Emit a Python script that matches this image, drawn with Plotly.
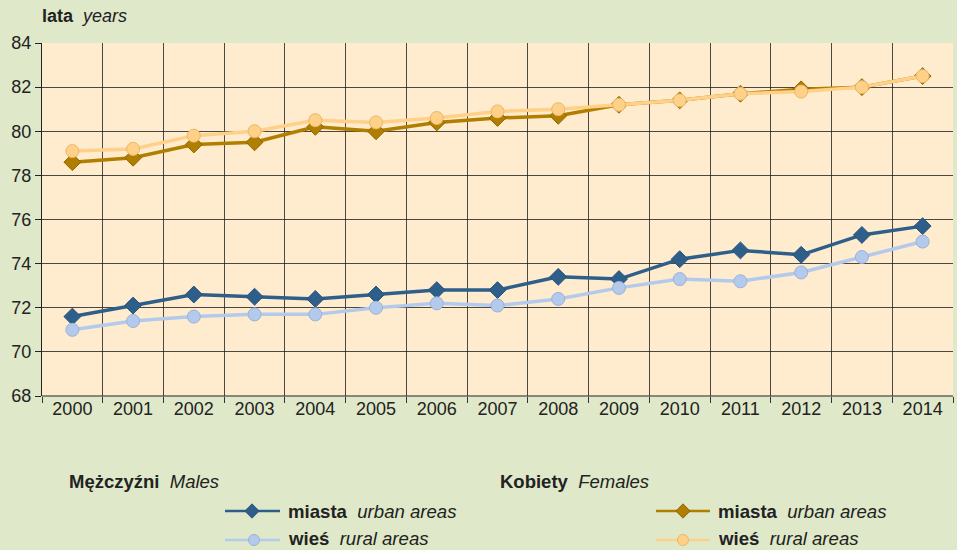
import plotly.graph_objects as go

years = [str(y) for y in range(2000, 2015)]
males_urban = [71.6, 72.1, 72.6, 72.5, 72.4, 72.6, 72.8, 72.8, 73.4, 73.3, 74.2, 74.6, 74.4, 75.3, 75.7]
males_rural = [71.0, 71.4, 71.6, 71.7, 71.7, 72.0, 72.2, 72.1, 72.4, 72.9, 73.3, 73.2, 73.6, 74.3, 75.0]
females_urban = [78.6, 78.8, 79.4, 79.5, 80.2, 80.0, 80.4, 80.6, 80.7, 81.2, 81.4, 81.7, 81.9, 82.0, 82.5]
females_rural = [79.1, 79.2, 79.8, 80.0, 80.5, 80.4, 80.6, 80.9, 81.0, 81.2, 81.4, 81.7, 81.8, 82.0, 82.5]
y_ticks = [68, 70, 72, 74, 76, 78, 80, 82, 84]

W, H = 957, 550
PL, PR, PT, PB = 42, 953, 43, 396

C_MU, C_MR = "#2E5F8A", "#B4CAEC"
C_FU, C_FR = "#B07F00", "#FFD088"
OL_MU, OL_MR = "#285478", "#98B2DA"
OL_FU, OL_FR = "#8F6800", "#E8B868"
FONT = "Liberation Sans, Arial, sans-serif"
TXT = "#222222"
SP = "\u00a0\u00a0"

series = [
    (males_urban, C_MU, "diamond", 13, OL_MU),
    (males_rural, C_MR, "circle", 13, OL_MR),
    (females_urban, C_FU, "diamond", 13, OL_FU),
    (females_rural, C_FR, "circle", 13, OL_FR),
]

fig = go.Figure()
for vals, col, sym, sz, ol in series:
    fig.add_trace(go.Scatter(
        x=years, y=vals, mode="lines+markers",
        line=dict(color=col, width=3.5),
        marker=dict(symbol=sym, size=sz, color=col, line=dict(color=ol, width=1)),
        xaxis="x", yaxis="y", showlegend=False, hoverinfo="skip"))

# legend samples on an overlay axis in pixel units (bottom area)
LEG_H = 121  # px from bottom
def ly(py):
    return H - py

leg_items = [
    (225, 280, 252, 511, C_MU, "diamond", OL_MU),
    (225, 280, 254, 540, C_MR, "circle", OL_MR),
    (656, 710, 683, 511, C_FU, "diamond", OL_FU),
    (656, 710, 683, 540, C_FR, "circle", OL_FR),
]
for x0, x1, xm, py, col, sym, ol in leg_items:
    fig.add_trace(go.Scatter(x=[x0, x1], y=[ly(py), ly(py)], mode="lines",
                             line=dict(color=col, width=2.5),
                             xaxis="x2", yaxis="y2", showlegend=False, hoverinfo="skip"))
    fig.add_trace(go.Scatter(x=[xm], y=[ly(py)], mode="markers",
                             marker=dict(symbol=sym, size=11, color=col, line=dict(color=ol, width=1)),
                             xaxis="x2", yaxis="y2", showlegend=False, hoverinfo="skip"))

grid_col = "rgba(30,30,30,0.8)"

def ann(x, y, text, size=18.6):
    return dict(xref="paper", yref="paper", x=x / W, y=1 - y / H, xanchor="left", yanchor="middle",
                text=text, showarrow=False, font=dict(size=size, color=TXT, family=FONT))

fig.update_layout(
    width=W, height=H,
    margin=dict(l=0, r=0, t=0, b=0),
    paper_bgcolor="#DFE8C8",
    plot_bgcolor="rgba(0,0,0,0)",
    font=dict(family=FONT, size=18, color=TXT),
    xaxis=dict(
        type="category", domain=[PL / W, PR / W], range=[-0.5, 14.5],
        tickson="boundaries", ticks="outside", ticklen=6, tickcolor="#333333",
        showgrid=True, gridcolor=grid_col, gridwidth=1,
        showline=False, zeroline=False, automargin=False, fixedrange=True,
        tickfont=dict(size=18, color=TXT), anchor="y"),
    yaxis=dict(
        domain=[(H - PB) / H, (H - PT) / H], range=[68, 84],
        tickvals=y_ticks, ticks="outside", ticklen=6, tickcolor=TXT,
        showgrid=True, gridcolor=grid_col, gridwidth=1,
        showline=True, linecolor=TXT, linewidth=1,
        zeroline=False, automargin=False, fixedrange=True,
        tickfont=dict(size=18, color=TXT), anchor="x"),
    xaxis2=dict(domain=[0, 1], range=[0, W], visible=False, fixedrange=True, anchor="y2"),
    yaxis2=dict(domain=[0, LEG_H / H], range=[0, LEG_H], visible=False, fixedrange=True, anchor="x2"),
    shapes=[
        dict(type="rect", xref="x domain", yref="y domain", x0=0, x1=1, y0=0, y1=1,
             fillcolor="#FFEBCD", line=dict(width=0), layer="below"),
        dict(type="line", xref="x domain", yref="y domain", x0=0, x1=1, y0=0, y1=0,
             line=dict(color=TXT, width=1), layer="above"),
    ],
    annotations=[
        ann(40, 16, "<b>lata</b>" + SP + "<i>years</i>", 18),
        ann(67, 481, "<b>Mężczyźni</b>" + SP + "<i>Males</i>", 18.5),
        ann(498, 481, "<b>Kobiety</b>" + SP + "<i>Females</i>", 18.5),
        ann(286, 511, "<b>miasta</b>" + SP + "<i>urban areas</i>"),
        ann(286, 538, "<b>wieś</b>" + SP + "<i>rural areas</i>"),
        ann(716, 511, "<b>miasta</b>" + SP + "<i>urban areas</i>"),
        ann(716, 538, "<b>wieś</b>" + SP + "<i>rural areas</i>"),
    ],
)

fig.write_html("out.html", config={"displayModeBar": False},
               post_script="document.body.style.margin='0';document.body.style.overflow='hidden';")
